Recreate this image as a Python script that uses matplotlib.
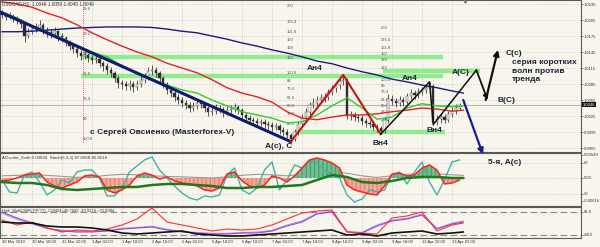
import numpy as np
import matplotlib
matplotlib.use('Agg')
import matplotlib.pyplot as plt
import matplotlib.transforms as mtransforms

plt.rcParams['font.family'] = ['Liberation Sans', 'DejaVu Sans']

# ---------------- data ----------------
title_text = "USDCAD,H1  1.0046 1.0050 1.0045 1.0046"
osc_title = "AOscilor_Zorik 0.00034  Stoch(5,3,3) 87.0968 85.0516"
low_title = "Heik_Multi(36|8) PP(77) -C(8404=40.7683 -39.9274 =70.0984"

time_labels = ["30 Mar 2010", "30 Mar 18:00", "31 Mar 10:00", "1 Apr 02:00", "1 Apr 18:00",
               "2 Apr 10:00", "5 Apr 02:00", "5 Apr 18:00", "6 Apr 10:00", "7 Apr 02:00",
               "7 Apr 18:00", "8 Apr 10:00", "9 Apr 02:00", "9 Apr 18:00", "12 Apr 10:00",
               "13 Apr 02:00"]
label_hours = [0, 16, 32, 48, 64, 80, 96, 112, 128, 144, 160, 176, 192, 208, 224, 240]

price_ticks = [1.0235, 1.0205, 1.0175, 1.0145, 1.0115, 1.0085, 1.0055, 1.0025, 0.9995, 0.9965]
last_price = 1.0046

bar_hours = list(range(0, 246, 2))
first_open = 1.0218
closes = [1.0214, 1.0211, 1.0213, 1.0207, 1.0203, 1.0198, 1.0175, 1.0184, 1.0188, 1.0192,
          1.0196, 1.0186, 1.0182, 1.0181, 1.0184, 1.0175, 1.0171, 1.0164, 1.0156, 1.0151,
          1.0143, 1.0137, 1.0139, 1.0134, 1.0130, 1.0132, 1.0124, 1.0119, 1.0111, 1.0106,
          1.0096, 1.0087, 1.0085, 1.0081, 1.0085, 1.0079, 1.0085, 1.0092, 1.0098, 1.0109,
          1.0111, 1.0106, 1.0096, 1.0085, 1.0074, 1.0068, 1.0061, 1.0055, 1.0049, 1.0046,
          1.0040, 1.0044, 1.0049, 1.0047, 1.0040, 1.0032, 1.0034, 1.0040, 1.0038, 1.0032,
          1.0036, 1.0038, 1.0042, 1.0036, 1.0027, 1.0021, 1.0017, 1.0016, 1.0012, 1.0014,
          1.0010, 1.0008, 1.0004, 1.0006, 0.9999, 0.9995, 0.9989, 0.9982, 0.9995, 1.0010,
          1.0023, 1.0032, 1.0046, 1.0049, 1.0055, 1.0059, 1.0061, 1.0070, 1.0077, 1.0083,
          1.0091, 1.0093, 1.0025, 1.0027, 1.0023, 1.0021, 1.0016, 1.0012, 1.0010, 1.0004,
          1.0002, 0.9997, 1.0018, 1.0057, 1.0053, 1.0049, 1.0055, 1.0051, 1.0062, 1.0068,
          1.0064, 1.0070, 1.0074, 1.0077, 1.0081, 1.0014, 1.0019, 1.0023, 1.0018, 1.0029,
          1.0034, 1.0040, 1.0046]
highs = [1.0224, 1.0219, 1.0220, 1.0217, 1.0212, 1.0207, 1.0201, 1.0190, 1.0195, 1.0199,
         1.0205, 1.0199, 1.0191, 1.0188, 1.0192, 1.0187, 1.0180, 1.0175, 1.0168, 1.0161,
         1.0156, 1.0149, 1.0146, 1.0144, 1.0139, 1.0140, 1.0136, 1.0129, 1.0124, 1.0116,
         1.0110, 1.0101, 1.0093, 1.0091, 1.0092, 1.0090, 1.0093, 1.0100, 1.0106, 1.0116,
         1.0120, 1.0117, 1.0110, 1.0100, 1.0089, 1.0079, 1.0073, 1.0066, 1.0060, 1.0055,
         1.0051, 1.0052, 1.0057, 1.0055, 1.0051, 1.0044, 1.0041, 1.0047, 1.0046, 1.0042,
         1.0043, 1.0045, 1.0049, 1.0046, 1.0040, 1.0032, 1.0026, 1.0023, 1.0021, 1.0020,
         1.0019, 1.0015, 1.0013, 1.0012, 1.0010, 1.0004, 1.0000, 0.9993, 1.0001, 1.0016,
         1.0029, 1.0040, 1.0052, 1.0058, 1.0063, 1.0066, 1.0069, 1.0076, 1.0084, 1.0089,
         1.0097, 1.0102, 1.0096, 1.0034, 1.0032, 1.0028, 1.0026, 1.0021, 1.0018, 1.0015,
         1.0010, 1.0007, 1.0024, 1.0066, 1.0064, 1.0059, 1.0062, 1.0060, 1.0069, 1.0075,
         1.0073, 1.0077, 1.0080, 1.0084, 1.0089, 1.0085, 1.0026, 1.0030, 1.0028, 1.0035,
         1.0041, 1.0047, 1.0050]
lows = [1.0208, 1.0205, 1.0206, 1.0201, 1.0197, 1.0190, 1.0163, 1.0171, 1.0179, 1.0183,
        1.0187, 1.0179, 1.0174, 1.0172, 1.0176, 1.0166, 1.0163, 1.0157, 1.0148, 1.0143,
        1.0136, 1.0130, 1.0131, 1.0126, 1.0122, 1.0124, 1.0117, 1.0110, 1.0103, 1.0098,
        1.0088, 1.0078, 1.0076, 1.0073, 1.0074, 1.0070, 1.0073, 1.0080, 1.0087, 1.0092,
        1.0102, 1.0099, 1.0089, 1.0078, 1.0067, 1.0060, 1.0054, 1.0048, 1.0042, 1.0038,
        1.0033, 1.0035, 1.0039, 1.0040, 1.0033, 1.0025, 1.0026, 1.0029, 1.0030, 1.0024,
        1.0027, 1.0030, 1.0033, 1.0029, 1.0020, 1.0014, 1.0010, 1.0009, 1.0005, 1.0006,
        1.0003, 1.0001, 0.9997, 0.9998, 0.9992, 0.9988, 0.9983, 0.9977, 0.9979, 0.9990,
        1.0005, 1.0017, 1.0027, 1.0040, 1.0043, 1.0049, 1.0052, 1.0055, 1.0064, 1.0070,
        1.0076, 1.0084, 1.0019, 1.0018, 1.0016, 1.0014, 1.0009, 1.0005, 1.0003, 0.9998,
        0.9995, 0.9991, 0.9993, 1.0012, 1.0046, 1.0042, 1.0044, 1.0044, 1.0047, 1.0056,
        1.0057, 1.0059, 1.0064, 1.0068, 1.0071, 1.0009, 1.0008, 1.0012, 1.0011, 1.0013,
        1.0024, 1.0029, 1.0036]

ma_hours = [0, 8, 16, 24, 32, 40, 48, 56, 64, 72, 80, 88, 96, 104, 112, 120,
            128, 136, 144, 152, 160, 168, 176, 184, 192, 200, 208, 216, 224, 232, 240, 246]
ma_slow = [1.0183, 1.0183, 1.0184, 1.0186, 1.0188, 1.0190, 1.0191, 1.0192, 1.0192, 1.0192,
           1.0191, 1.0188, 1.0184, 1.0181, 1.0175, 1.0169, 1.0162, 1.0156, 1.0149, 1.0143,
           1.0136, 1.0128, 1.0123, 1.0115, 1.0108, 1.0102, 1.0094, 1.0089, 1.0083, 1.0078,
           1.0072, 1.0068]
ma_mid = [1.0239, 1.0235, 1.0229, 1.0218, 1.0209, 1.0196, 1.0181, 1.0168, 1.0156, 1.0145,
          1.0136, 1.0124, 1.0115, 1.0106, 1.0093, 1.0078, 1.0068, 1.0061, 1.0051, 1.0033,
          1.0021, 1.0018, 1.0023, 1.0027, 1.0027, 1.0029, 1.0033, 1.0036, 1.0040, 1.0038,
          1.0034, 1.0036]
ma_fast = [1.0220, 1.0209, 1.0194, 1.0183, 1.0171, 1.0158, 1.0145, 1.0136, 1.0119, 1.0104,
           1.0094, 1.0083, 1.0074, 1.0068, 1.0055, 1.0044, 1.0033, 1.0027, 1.0021, 1.0012,
           1.0014, 1.0027, 1.0044, 1.0059, 1.0040, 1.0019, 1.0023, 1.0040, 1.0048, 1.0044,
           1.0042, 1.0044]

trend_start = (-1, 1.0220)            # start of the blue channel line
wave_a_idx, wave_top_idx, wave_b_idx = 77, 91, 101
wave_peak2_idx, wave_low2_idx = 114, 115
proj_a = (253, 1.0111)                # projected A(C)
proj_b = (259, 1.0055)                # projected B(C)
proj_c = (264.5, 1.0149)              # projected C(c)
blue_arrow = [(246, 1.0055), (256.5, 0.9953)]

fib1 = (43, 1.0297, 0.9978)           # hour, level 0 price, level 100 price
fib_levels = [23.6, 38.2, 50.0, 61.8, 76.4, 88, 100.0, 123, 138, 150, 161.8, 176.4, 200]
fib_names = ["23.6", "38.2", "50.0", "61.8", "76.4", "88", "100.0", "123", "138", "150",
             "161.8", "176.4", "200"]
green_levels = [(1.0136, 42, 235), (1.0100, 42, 235), (1.0109, 203, 255), (0.9995, 157, 236)]

osc_hours = list(range(0, 245, 4))
osc_hist = [45.1, 47.0, 50.9, 56.7, 58.6, 60.5, 43.1, 35.4, 31.5, 37.3, 43.1, 54.7, 56.7, 52.8,
            27.7, 21.9, 27.7, 37.3, 54.7, 60.5, 56.7, 48.9, 52.8, 45.1, 41.2, 39.3, 35.4, 27.7,
            25.7, 31.5, 58.6, 62.5, 45.1, 35.4, 31.5, 37.3, 54.7, 50.9, 43.1, 54.7, 70.2, 85.7,
            89.6, 85.7, 79.9, 70.2, 37.3, 27.7, 23.8, 19.9, 18.0, 35.4, 58.6, 60.5, 54.7, 56.7,
            70.2, 76.0, 66.3, 39.3, 41.2, 47.0]
stoch_main = [47.0, 23.8, 21.9, 56.7, 62.5, 43.1, 18.0, 27.7, 47.0, 41.2, 62.5, 66.3, 66.3, 50.9,
              16.1, 16.1, 31.5, 62.5, 74.1, 85.7, 91.5, 66.3, 50.9, 35.4, 21.9, 12.2, 8.3, 16.1,
              14.1, 18.0, 56.7, 70.2, 27.7, 19.9, 31.5, 66.3, 81.8, 27.7, 47.0, 76.0, 70.2, 83.8,
              79.9, 66.3, 56.7, 50.9, 18.0, 4.4, 10.2, 27.7, 23.8, 27.7, 56.7, 62.5, 39.3, 62.5,
              81.8, 43.1, 18.0, 47.0, 81.8, 85.7]
osc_signal = [43.1, 41.2, 41.2, 37.3, 29.6, 27.7, 29.6, 31.5, 33.5, 33.5, 37.3, 39.3, 39.3, 37.3,
              35.4, 31.5, 31.5, 33.5, 33.5, 35.4, 37.3, 47.0, 56.7, 52.8, 43.1, 41.2, 45.1, 50.9,
              52.8, 52.8, 50.9, 50.9]
osc_gray = [55, 56, 57, 56, 54, 52, 53, 56, 58, 57, 55, 54, 53, 52, 51, 53, 56, 58, 57, 55,
            58, 62, 64, 60, 55, 52, 55, 58, 60, 59, 57, 56]

m_black = [51.6, 48.4, 48.4, 38.7, 35.5, 35.5, 32.3, 25.8, 16.1, 12.9, 16.1, 19.4, 22.6, 12.9,
           9.7, 6.5, 6.5, 9.7, 12.9, 16.1, 19.4, 22.6, 25.8, 9.7, 12.9, 6.5, 16.1, 19.4, 22.6,
           12.9, 16.1, 19.4]
m_red = [58.1, 41.9, 51.6, 32.3, 19.4, 25.8, 22.6, 29.0, 41.9, 61.3, 96.8, 51.6, 41.9, 32.3,
         22.6, 29.0, 25.8, 29.0, 41.9, 61.3, 80.6, 87.1, 90.3, 19.4, 16.1, 12.9, 64.5, 71.0,
         83.9, 22.6, 41.9, 48.4]
m_purple = [83.9, 64.5, 48.4, 32.3, 22.6, 19.4, 19.4, 22.6, 29.0, 32.3, 35.5, 25.8, 19.4, 16.1,
            12.9, 12.9, 16.1, 16.1, 22.6, 38.7, 51.6, 77.4, 83.9, 19.4, 16.1, 38.7, 54.8, 61.3,
            74.2, 29.0, 45.2, 51.6]
m_blue = [80, 60, 45, 30, 25, 22, 21, 24, 31, 34, 38, 28, 21, 18, 15, 15, 18, 19, 25, 42,
          55, 80, 87, 21, 18, 42, 58, 64, 77, 31, 48, 55]

# ---------------- figure ----------------
W, H = 600, 247
bg = '#f8f5ec'
fig = plt.figure(figsize=(6.0, 2.47), dpi=100, facecolor=bg)
right = 581 / W
ax1 = fig.add_axes([0, 1 - 152 / H, right, 152 / H])
ax2 = fig.add_axes([0, 1 - 206 / H, right, 53 / H])
ax3 = fig.add_axes([0, 1 - 238 / H, right, 31 / H])

XL = (-1.07, 308.8)
grid_kw = dict(color='#b5b5b5', lw=0.5, ls=(0, (1, 2)), zorder=0)
for ax in (ax1, ax2, ax3):
    ax.set_facecolor(bg)
    ax.set_xlim(*XL)
    for s in ax.spines.values():
        s.set_color('#5a5a5a')
        s.set_linewidth(0.8)
    for h in label_hours:
        ax.axvline(h, **grid_kw)
    ax.yaxis.tick_right()
    ax.tick_params(axis='y', labelsize=3.0, length=1.5, width=0.4, pad=0.8, colors='#333333')
    ax.tick_params(axis='x', length=0)

# ---- main panel
ax1.set_ylim(0.99575, 1.02425)
ax1.set_yticks(price_ticks)
ax1.set_yticklabels([f"{p:.4f}" for p in price_ticks])
ax1.set_xticks([])
for p in price_ticks:
    ax1.axhline(p, **grid_kw)

# fib time line
ax1.plot([fib1[0], fib1[0]], [1.0242, 0.9975], color='#e03030', lw=0.6, ls=(0, (1, 1.5)), zorder=1)

# bright green levels
for p, h0, h1 in green_levels:
    ax1.plot([h0, h1], [p, p], color='#7fea7f', lw=3.2, alpha=0.85, solid_capstyle='butt', zorder=1)

# price line
ax1.axhline(last_price, color='#9a9a9a', lw=0.5, zorder=1)

# candles
opens = [first_open] + closes[:-1]
ax1.vlines(bar_hours, lows, highs, color='#3c3c3c', lw=0.6, zorder=3)
body_col = ['#f2f2f2' if c >= o else '#2a2a2a' for o, c in zip(opens, closes)]
ax1.bar(bar_hours, np.array(closes) - np.array(opens), bottom=opens, width=1.3,
        color=body_col, edgecolor='#3c3c3c', lw=0.3, zorder=3)

# moving averages
ax1.plot(ma_hours, ma_slow, color='#1c1c7c', lw=1.0, zorder=4)
ax1.plot(ma_hours, ma_mid, color='#e02424', lw=1.0, zorder=4)
ax1.plot(ma_hours, ma_fast, color='#2ccf2c', lw=1.0, zorder=4)

# channel line
ax1.plot([trend_start[0], 2 * wave_a_idx], [trend_start[1], lows[wave_a_idx]],
         color='#101a70', lw=2.2, zorder=5)

# red zigzag
ax1.plot([2 * wave_a_idx, 2 * wave_top_idx, 2 * wave_b_idx],
         [lows[wave_a_idx], highs[wave_top_idx], lows[wave_b_idx]],
         color='#c81414', lw=1.5, zorder=6)
# black zigzag + projection
ax1.plot([2 * wave_b_idx, 2 * wave_peak2_idx, 2 * wave_low2_idx, proj_a[0]],
         [lows[wave_b_idx], highs[wave_peak2_idx], lows[wave_low2_idx], proj_a[1]],
         color='#111111', lw=1.1, zorder=6)
ax1.annotate('', xy=proj_b, xytext=proj_a,
             arrowprops=dict(arrowstyle='-|>', color='#111111', lw=1.3, mutation_scale=7,
                             shrinkA=0, shrinkB=0), zorder=6)
ax1.annotate('', xy=proj_c, xytext=(proj_b[0] - 1, proj_b[1]),
             arrowprops=dict(arrowstyle='-|>', color='#111111', lw=1.6, mutation_scale=8,
                             shrinkA=0, shrinkB=0), zorder=6)
ax1.annotate('', xy=blue_arrow[1], xytext=blue_arrow[0], annotation_clip=False,
             arrowprops=dict(arrowstyle='-|>', color='#13208c', lw=1.6, mutation_scale=8,
                             shrinkA=0, shrinkB=0, clip_on=False), zorder=7)

# fib labels
fib2 = (152, lows[wave_a_idx], highs[wave_top_idx])
fib3 = (202, lows[wave_b_idx], highs[wave_peak2_idx])
for (fh, p0, p100) in (fib1, fib2, fib3):
    for L, name in zip(fib_levels, fib_names):
        if fib1 == (fh, p0, p100) and L > 100:
            continue
        yv = p0 + (p100 - p0) * L / 100.0
        ax1.text(fh, yv, name, fontsize=3.0, color='#505050', ha='left', va='bottom',
                 clip_on=True, zorder=2)

# texts
tkw = dict(fontsize=6, fontweight='bold', color='#1e2433', zorder=8)
ax1.text(167, 1.0115, 'Ан4', ha='center', va='center', **tkw)
ax1.text(217.6, 1.0096, 'Ан4', ha='center', va='center', **tkw)
ax1.text(244.8, 1.0107, 'A(C)', ha='center', va='center', **tkw)
ax1.text(273, 1.0143, 'C(c)', ha='center', va='center', **tkw)
ax1.text(272, 1.0131, 'серия коротких\nволн против\nтренда', ha='left', va='top',
         linespacing=1.25, **tkw)
ax1.text(269, 1.0055, 'B(C)', ha='center', va='center', **tkw)
ax1.text(201.6, 0.9974, 'Вн4', ha='center', va='center', **tkw)
ax1.text(230.4, 0.9997, 'Вн4', ha='center', va='center', **tkw)
ax1.text(147.7, 0.99675, 'A(c), C', ha='center', va='center', **tkw)
ax1.text(47, 0.9995, 'с Сергей Овсиенко (Masterforex-V)', ha='left', va='center', **tkw)
fig.text(488 / W, 1 - 162 / H, '5-я, A(c)', ha='left', va='center', **tkw)

ax1.text(0.004, 0.975, title_text, transform=ax1.transAxes, fontsize=3.4, color='#333333',
         ha='left', va='center', zorder=9)
ax1.plot([247], [1.0240], marker='v', ms=2.5, color='#777777', clip_on=False, zorder=9)

# current price box
trans = mtransforms.blended_transform_factory(ax1.transAxes, ax1.transData)
ax1.text(1.003, last_price, f"{last_price:.4f}", transform=trans, fontsize=3.0, color='white',
         ha='left', va='center', bbox=dict(boxstyle='square,pad=0.15', fc='#111111', ec='none'),
         zorder=10, clip_on=False)

# ---- oscillator panel
ax2.set_ylim(-3.3, 99.2)
osc_ticks = [95.4, 80, 50.9, 20, 6.4]
ax2.set_yticks(osc_ticks)
ax2.set_yticklabels(['0.00549', '80', '0.00', '20', '-0.00616'])
ax2.set_xticks([])
for v in (80, 50.9, 20):
    ax2.axhline(v, **grid_kw)
oh = np.array(osc_hist)
base = 50.9
ax2.fill_between(osc_hours, base, oh, where=oh >= base, interpolate=True, color='#5fbf86',
                 lw=0, alpha=0.9, hatch='||||', edgecolor='#3f9f66', zorder=2)
ax2.fill_between(osc_hours, base, oh, where=oh < base, interpolate=True, color='#f3a393',
                 lw=0, alpha=0.9, hatch='||||', edgecolor='#e88070', zorder=2)
ax2.plot(ma_hours, osc_gray, color='#9a9a9a', lw=0.8, zorder=3)
ax2.plot(osc_hours, stoch_main, color='#3fb3a6', lw=1.0, zorder=4)
ax2.plot(osc_hours, osc_hist, color='#ff2222', lw=1.1, zorder=5)
ax2.plot(ma_hours, osc_signal, color='#1f7a1f', lw=1.8, zorder=6)
ax2.text(0.004, 0.9, osc_title, transform=ax2.transAxes, fontsize=3.2, color='#333333',
         ha='left', va='center', zorder=9)

# ---- bottom panel
ax3.set_ylim(0, 100)
ax3.set_yticks([84, 10])
ax3.set_yticklabels(['81.8', '-88.0'])
for v in (84, 10):
    ax3.axhline(v, color='#8a8a8a', lw=0.8, ls=(0, (6, 3)), zorder=1)
ax3.plot(ma_hours, m_blue, color='#8fa6ff', lw=0.8, zorder=2)
ax3.plot(ma_hours, m_purple, color='#a040d0', lw=0.8, zorder=3)
ax3.plot(ma_hours, m_red, color='#ff3030', lw=0.8, zorder=4)
ax3.plot(ma_hours, m_black, color='#111111', lw=1.2, zorder=5)
ax3.text(0.004, 0.86, low_title, transform=ax3.transAxes, fontsize=3.0, color='#333333',
         ha='left', va='center', zorder=9)
ax3.set_xticks(label_hours)
ax3.set_xticklabels(time_labels, fontsize=3.0, color='#333333')
for t in ax3.get_xticklabels():
    t.set_ha('left')
ax3.tick_params(axis='x', pad=1.5)

fig.savefig('out.png', dpi=100, facecolor=bg)
